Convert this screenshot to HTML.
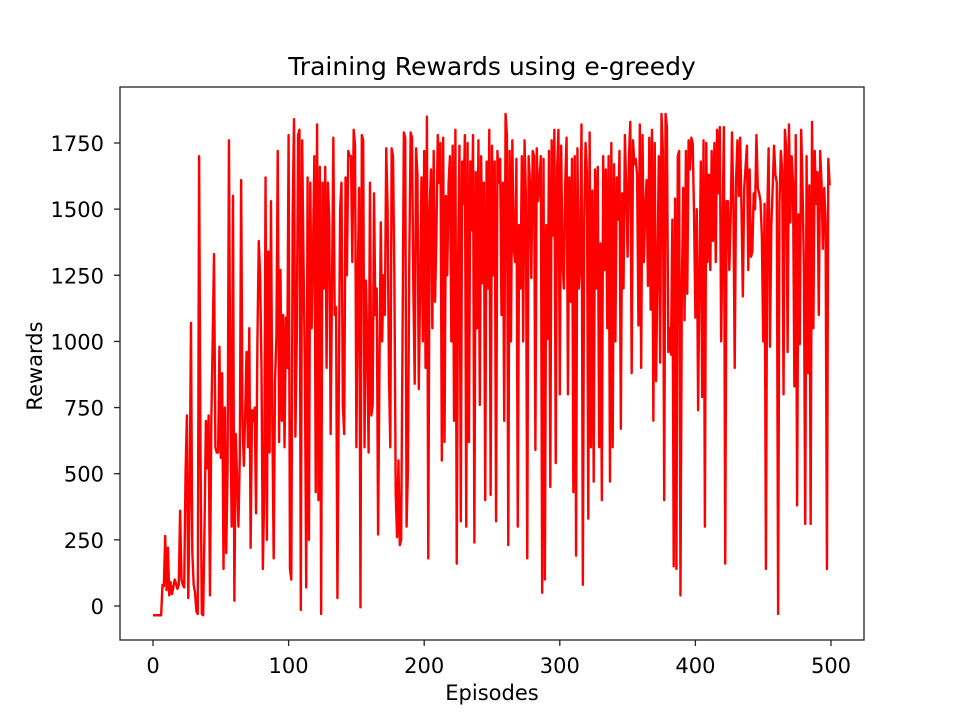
<!DOCTYPE html>
<html><head><meta charset="utf-8"><style>
body{margin:0;background:#fff;}
svg{display:block;font-family:"DejaVu Sans","Liberation Sans",sans-serif;}
</style></head><body>
<svg id="chart" width="960" height="720">
<rect width="960" height="720" fill="#fff"/>
<text x="492" y="75" font-size="25" text-anchor="middle">Training Rewards using e-greedy</text>
<g id="xt"></g>
<g id="yt"></g>
<path id="line" fill="none" stroke="#ff0000" stroke-width="2.4" stroke-linejoin="round"/>
<rect x="120" y="87" width="744" height="553" fill="none" stroke="#222" stroke-width="1.3"/>
<text x="492" y="700" font-size="21" text-anchor="middle">Episodes</text>
<text x="42" y="366" font-size="21" text-anchor="middle" transform="rotate(-90 42 366)">Rewards</text>
</svg>
<script>
const xTicks=[0,100,200,300,400,500];
const yTicks=[0,250,500,750,1000,1250,1500,1750];
const rewards=[
-35,-35,-35,-35,-35,-35,-35,80,75,265,60,220,40,90,45,70,100,85,65,80,
360,100,80,70,500,720,30,400,1070,200,80,50,-20,-30,1700,600,-30,-35,300,700,
520,720,40,700,1000,1330,600,580,580,980,560,880,140,750,200,520,1760,800,300,1550,
20,650,480,300,560,1610,700,530,730,960,600,1050,220,740,700,750,350,1000,1380,1250,
900,140,420,1620,250,1340,580,1530,700,180,850,1020,1720,620,1270,700,1100,600,1090,900,
1780,140,100,1480,1840,640,1000,1780,1800,-15,1760,1300,900,70,1620,250,1600,1050,1350,1700,
430,1820,400,1660,-30,1600,1200,1660,900,1600,1450,650,1200,1770,1100,1130,30,800,1500,1600,
760,650,1620,1250,1720,1700,1700,1300,1800,1740,600,1250,1580,-5,1780,1760,600,1230,1000,580,
1600,720,760,1560,1100,1200,270,900,1450,1000,1250,1100,1730,1500,880,600,1730,1700,1250,420,
260,550,230,250,1000,1790,1770,300,520,1300,1790,1770,1200,840,1730,1630,820,1200,1620,1000,
1720,900,1850,180,1500,1650,1050,1720,1150,1400,1780,1600,1750,550,1770,620,1550,1250,1600,1700,
1000,1740,700,1800,160,1300,1740,320,1680,1520,1780,300,1750,620,1680,1420,1780,240,1640,1050,
1760,760,1700,1220,1600,400,1680,1200,1800,420,1740,1250,1680,320,1720,1600,1690,1100,1600,700,
1860,1780,230,1720,1000,1760,1350,1300,1690,300,1440,1200,1700,1000,1760,1550,180,1700,1600,1240,
1720,1700,590,1730,1530,1600,1700,50,1690,100,1440,1010,1720,450,1760,1400,1800,540,1650,1800,
800,1740,1300,1200,1600,1770,800,1620,1150,1690,430,1700,190,1730,1200,1300,1820,80,1460,1750,
1640,330,1790,600,1570,470,1650,1200,1660,600,1370,400,1700,1270,1650,1050,1700,470,1750,600,
1670,1000,1620,1460,1720,670,1560,1200,1780,1570,1320,1700,1830,880,1760,1670,1690,1630,1060,1820,
900,1780,1300,1500,1610,1210,1770,1120,1800,700,1750,850,1260,1700,920,1860,1720,400,1860,1810,
960,1050,950,1460,150,1540,140,1700,1720,40,1200,1580,1080,1720,1180,1760,1650,1770,1750,1480,
1090,1500,740,1250,1680,790,1760,300,1750,1300,1630,1270,1720,1380,1750,1300,1800,1560,1810,1000,
1400,1810,160,1530,1530,1270,1460,1790,1520,900,1610,1760,1550,1770,1500,1170,1580,1660,1740,1270,
1650,1320,1340,1560,1500,1780,1580,1560,1530,1400,1000,1520,140,1480,1730,980,1440,1580,1740,1630,
1600,-30,1520,1720,1650,800,1800,1730,960,1820,1450,1700,1600,830,1780,380,1480,990,1800,1590,
1280,310,1700,880,1590,310,1830,1050,1720,1520,1640,1100,1720,1600,1350,1580,1450,140,1690,1590
];
const NS="http://www.w3.org/2000/svg";
const sx=v=>153+v*(678/500);
const sy=v=>606-v*(463/1750);
const xt=document.getElementById('xt'), yt=document.getElementById('yt');
xTicks.forEach(t=>{
  const l=document.createElementNS(NS,'line');
  l.setAttribute('x1',sx(t));l.setAttribute('x2',sx(t));l.setAttribute('y1',640);l.setAttribute('y2',646);l.setAttribute('stroke','#222');l.setAttribute('stroke-width','1.3');
  
  
  xt.appendChild(l);
  const tx=document.createElementNS(NS,'text');
  tx.setAttribute('x',sx(t));tx.setAttribute('y',673);tx.setAttribute('font-size','21');tx.setAttribute('text-anchor','middle');
  tx.textContent=t;
  
  
  xt.appendChild(tx);
});
yTicks.forEach(t=>{
  const l=document.createElementNS(NS,'line');
  l.setAttribute('x1',114);l.setAttribute('x2',120);l.setAttribute('y1',sy(t));l.setAttribute('y2',sy(t));l.setAttribute('stroke','#222');l.setAttribute('stroke-width','1.3');
  
  
  yt.appendChild(l);
  const tx=document.createElementNS(NS,'text');
  tx.setAttribute('x',104);tx.setAttribute('y',sy(t)+8);tx.setAttribute('font-size','21');tx.setAttribute('text-anchor','end');
  tx.textContent=t;
  
  
  yt.appendChild(tx);
});
document.getElementById('line').setAttribute('d',rewards.map((v,i)=>(i?'L':'M')+sx(i).toFixed(2)+' '+sy(v).toFixed(2)).join(' '));
</script>
</body></html>
